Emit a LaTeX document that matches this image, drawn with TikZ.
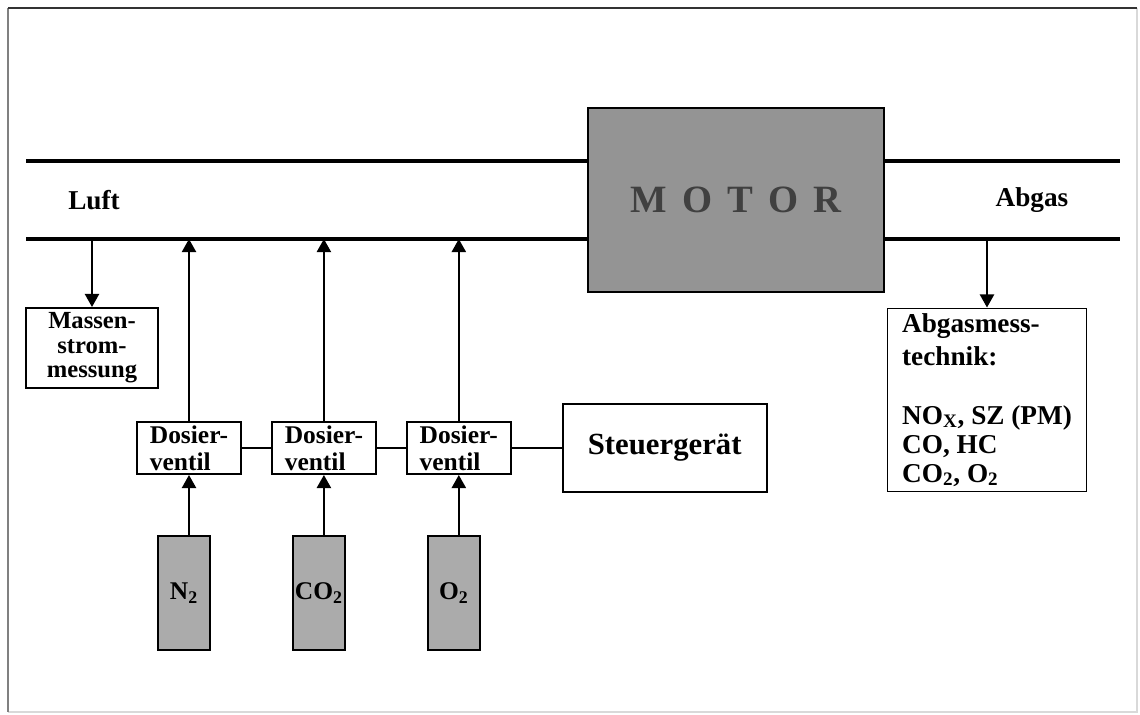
\documentclass[tikz,border=0pt]{standalone}
\usepackage{fontspec}
\setmainfont{Liberation Serif}
\usetikzlibrary{arrows.meta,positioning}

\newcommand{\groesse}[2]{\fontsize{#1}{#2}\selectfont\bfseries}

\tikzset{
  rohr/.style={line width=2.1pt},
  pfeil/.style={line width=1.4pt,-{Triangle[length=7.5pt,width=8pt]}},
  verbindung/.style={line width=1.1pt},
  kasten/.style={draw,line width=1.1pt,inner sep=1pt},
  dosierbox/.style={kasten,minimum width=2.08cm,minimum height=1.04cm,align=left,font=\groesse{14.5}{15.5}},
  flasche/.style={draw,line width=1.1pt,fill=black!33,minimum width=1.04cm,minimum height=2.28cm,inner sep=0pt,font=\groesse{14.5}{15}},
}

\begin{document}
\begin{tikzpicture}[x=0.02cm,y=-0.02cm]
        % --- Rahmen -------------------------------------------------------
        \useasboundingbox (0,0) rectangle (1140,715);
        \draw[black!15,line width=1pt] (1137,8) -- (1137,712) -- (8,712);
        \draw[black!50,line width=1.2pt] (8,712) -- (8,8);
        \draw[black!80,line width=1.2pt] (8,8) -- (1137,8);
        % --- Motor --------------------------------------------------------
        \node[draw,line width=1.1pt,fill=black!42,minimum width=5.92cm,minimum height=3.68cm,
              text=black!75,font=\groesse{22}{26}] (motor) at (736,200)
              {M\hspace{8.5pt}O\hspace{8.5pt}T\hspace{8.5pt}O\hspace{8.5pt}R};
        % --- Rohre --------------------------------------------------------
        \coordinate (lo) at (26,161);
        \coordinate (lu) at (26,239);
        \coordinate (ro) at (1120,161);
        \coordinate (ru) at (1120,239);
        \draw[rohr] (lo) -- (lo -| motor.west);
        \draw[rohr] (lu) -- (lu -| motor.west);
        \draw[rohr] (motor.east |- ro) -- (ro);
        \draw[rohr] (motor.east |- ru) -- (ru);
        \node[font=\groesse{15.5}{17}] (luft) at (94,200) {Luft};
        \node[font=\groesse{15.5}{17}] (abgas) at (1032,200) {Abgas};
        % --- Messungen ----------------------------------------------------
        \node[kasten,minimum width=2.64cm,minimum height=1.6cm,align=center,
              font=\groesse{14}{14}] (massen) at (92,348) {Massen-\\strom-\\messung};
        \draw[pfeil] (massen.north |- lu) -- (massen.north);
        \node[kasten,minimum width=3.98cm,minimum height=3.66cm,
              align=left,font=\groesse{15.5}{16.5}] (abgasmess) at (987,400)
              {Abgasmess-\\[2pt]technik:\\[17pt]NO\textsubscript{X}, SZ (PM)\\CO, HC\\CO\textsubscript{2}, O\textsubscript{2}};
        \draw[pfeil] (abgasmess.north |- ru) -- (abgasmess.north);
        % --- Dosierventile ------------------------------------------------
        \node[dosierbox] (v1) at (189,448) {Dosier-\\ventil};
        \node[dosierbox,right=0.58cm of v1] (v2) {Dosier-\\ventil};
        \node[dosierbox,right=0.58cm of v2] (v3) {Dosier-\\ventil};
        \node[kasten,right=1.0cm of v3,minimum width=4.08cm,minimum height=1.76cm,
              font=\groesse{17.5}{21}] (steuer) {Steuergerät};
        \draw[verbindung] (v1) -- (v2);
        \draw[verbindung] (v2) -- (v3);
        \draw[verbindung] (v3) -- (steuer);
        \draw[pfeil] (v1.north) -- (v1.north |- lu);
        \draw[pfeil] (v2.north) -- (v2.north |- lu);
        \draw[pfeil] (v3.north) -- (v3.north |- lu);
        % --- Gasflaschen --------------------------------------------------
        \node[flasche,below=1.2cm of v1,xshift=-0.1cm] (n2) {N\textsubscript{2}};
        \node[flasche,below=1.2cm of v2,xshift=-0.1cm] (co2) {CO\textsubscript{2}};
        \node[flasche,below=1.2cm of v3,xshift=-0.1cm] (o2) {O\textsubscript{2}};
        \draw[pfeil] (n2.north -| v1.south) -- (v1.south);
        \draw[pfeil] (co2.north -| v2.south) -- (v2.south);
        \draw[pfeil] (o2.north -| v3.south) -- (v3.south);
\end{tikzpicture}
\end{document}
